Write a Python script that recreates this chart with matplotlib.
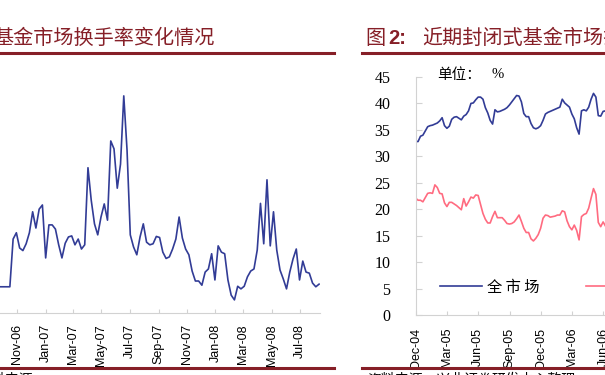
import matplotlib
matplotlib.use('Agg')
import matplotlib.pyplot as plt
import matplotlib.dates as mdates
import pandas as pd
from matplotlib.lines import Line2D

plt.rcParams['font.family'] = ['Noto Sans CJK SC', 'DejaVu Sans']

# ---------------- data ----------------
left_start = '2006-09-25'
left_turnover = [5.0, 5.0, 5.0, 5.0, 14.1, 15.3, 12.4, 11.9, 13.2, 15.3,
                 19.3, 16.2, 19.8, 20.6, 10.5, 16.8, 16.8, 16.0, 13.0, 10.5,
                 13.3, 14.5, 14.7, 13.0, 14.1, 12.2, 13.0, 27.7, 21.5, 17.0,
                 14.9, 18.3, 20.8, 17.7, 32.8, 31.3, 23.8, 28.4, 41.4, 31.1,
                 14.9, 12.6, 11.1, 14.5, 17.0, 13.5, 13.0, 13.2, 14.6, 14.4,
                 11.6, 10.4, 10.7, 12.2, 14.1, 18.3, 14.3, 12.2, 11.1, 8.0,
                 6.1, 6.1, 5.3, 7.8, 8.4, 11.3, 6.3, 12.8, 11.6, 11.3,
                 6.3, 3.4, 2.5, 5.1, 4.6, 5.1, 6.9, 8.0, 8.4, 12.0,
                 20.9, 13.2, 25.4, 12.8, 19.3, 12.0, 8.2, 6.5, 4.6, 7.8,
                 10.3, 12.2, 6.3, 9.9, 7.8, 7.6, 5.7, 5.0, 5.5]
left_ticks = ['Nov-06', 'Jan-07', 'Mar-07', 'May-07', 'Jul-07', 'Sep-07',
              'Nov-07', 'Jan-08', 'Mar-08', 'May-08', 'Jul-08']

right_start = '2004-12-01'
right_all = [32.8, 32.8, 33.8, 34.0, 34.8, 35.6, 35.8, 35.9, 36.1, 36.3,
             36.7, 37.3, 35.8, 35.3, 35.7, 37.0, 37.4, 37.5, 37.2, 36.9,
             37.6, 37.9, 38.6, 40.0, 40.1, 40.7, 41.2, 41.2, 40.8, 39.2,
             38.2, 36.8, 36.1, 38.8, 38.4, 38.5, 38.7, 38.9, 39.2, 39.7,
             40.3, 40.9, 41.5, 41.4, 40.3, 38.1, 37.5, 37.5, 36.2, 35.4,
             35.2, 35.4, 35.8, 36.8, 38.0, 38.3, 38.5, 38.7, 38.9, 39.1,
             39.3, 40.8, 40.1, 39.7, 39.3, 38.0, 37.1, 35.4, 34.2, 38.6,
             38.8, 38.6, 39.3, 40.8, 41.9, 41.2, 37.7, 37.6, 38.5, 38.6]
right_other = [22.1, 21.7, 21.7, 21.4, 22.2, 23.0, 23.1, 23.0, 24.6, 24.1,
               23.0, 22.9, 21.2, 20.5, 21.3, 21.3, 21.0, 20.7, 20.3, 19.9,
               22.0, 20.6, 21.4, 22.3, 22.1, 22.7, 22.6, 20.9, 19.2, 18.1,
               17.4, 17.4, 18.6, 19.6, 18.4, 18.4, 18.4, 17.9, 17.3, 17.2,
               17.3, 17.6, 18.2, 18.9, 17.7, 16.4, 15.6, 15.6, 14.4, 14.0,
               14.5, 15.2, 16.4, 18.3, 18.9, 18.8, 18.5, 18.6, 18.7, 18.9,
               18.9, 19.7, 19.5, 17.8, 16.7, 16.1, 17.0, 16.0, 14.2, 18.6,
               19.0, 19.2, 20.2, 22.1, 23.9, 22.8, 17.5, 16.7, 17.6, 16.8]
right_ticks = ['Dec-04', 'Mar-05', 'Jun-05', 'Sep-05', 'Dec-05', 'Mar-06',
               'Jun-06', 'Sep-06']
right_yticks = [0, 5, 10, 15, 20, 25, 30, 35, 40, 45]
right_labels = ['全 市 场', '封闭式基金']

left_title = '基金市场换手率变化情况'
right_title_a = '图'
right_title_b = '2:'
right_title_c = '近期封闭式基金市场折价率变化'
unit_text = '单位：'
unit_sym = '%'
left_source = '资料来源'
right_source = '资料来源：兴业证券研发中心整理'

# ---------------- layout helpers ----------------
W, H = 605.0, 375.0
fig = plt.figure(figsize=(6.05, 3.75), dpi=100)
fig.patch.set_facecolor('white')


def fx(x):
    return x / W


def fy(y):
    return 1.0 - y / H


DARKRED = '#861F27'
BLUE = '#323C96'
PINK = '#FF6B80'
GRAY = '#D2D2D2'

# ---------------- left chart ----------------
ax1 = fig.add_axes([fx(0), fy(313), fx(320) - fx(0), fy(77) - fy(313)])
ldates = pd.date_range(left_start, periods=len(left_turnover), freq='7D')
ax1.plot(ldates, left_turnover, color=BLUE, lw=1.2)
ltick_dates = pd.to_datetime(left_ticks, format='%b-%y')
d0 = mdates.date2num(ltick_dates[0])
d1 = mdates.date2num(ltick_dates[-1])
sc = (d1 - d0) / (300.0 - 17.3)
ax1.set_xlim(d0 - 17.3 * sc, d0 + (320 - 17.3) * sc)
ax1.set_ylim(0, 45)
ax1.set_xticks(ltick_dates)
ax1.set_xticklabels(left_ticks, rotation=90, fontfamily='Liberation Sans',
                    fontsize=9)
ax1.set_yticks([])
ax1.tick_params(axis='x', direction='in', length=3, color=GRAY, pad=8)
for s in ['left', 'top', 'right']:
    ax1.spines[s].set_visible(False)
ax1.spines['bottom'].set_color(GRAY)
ax1.patch.set_alpha(0)

# ---------------- right chart ----------------
rl, rr = 415.5, 800.0
ax2 = fig.add_axes([fx(rl), fy(315), fx(rr) - fx(rl), fy(77) - fy(315)])
rdates = pd.date_range(right_start, periods=len(right_all), freq='7D')
l1, = ax2.plot(rdates, right_all, color=BLUE, lw=1.2)
l2, = ax2.plot(rdates, right_other, color=PINK, lw=1.2)
r0 = mdates.date2num(pd.Timestamp(right_start)) - 0.5
ax2.set_xlim(r0, r0 + (rr - rl) * 2.913)
ax2.set_ylim(0, 45)
rtick_dates = pd.to_datetime(right_ticks, format='%b-%y')
ax2.set_xticks(rtick_dates)
ax2.set_xticklabels(right_ticks, rotation=90, fontfamily='Liberation Sans',
                    fontsize=9)
ax2.set_yticks(right_yticks)
ax2.set_yticklabels([str(v) for v in right_yticks],
                    fontfamily='Liberation Serif', fontsize=11.5)
ax2.tick_params(axis='x', direction='in', length=3, color=GRAY, pad=9)
ax2.tick_params(axis='y', direction='in', length=4, color=GRAY, pad=18)
for s in ['top', 'right']:
    ax2.spines[s].set_visible(False)
ax2.spines['bottom'].set_color(GRAY)
ax2.spines['left'].set_color(GRAY)
ax2.patch.set_alpha(0)

ax2.legend([l1, l2], right_labels, ncol=2, loc='center left',
           bbox_to_anchor=(fx(440), fy(287.3)), bbox_transform=fig.transFigure,
           frameon=False, fontsize=11, handlelength=2.75, handletextpad=0.35,
           columnspacing=3.0, borderpad=0, borderaxespad=0)

fig.text(fx(437), fy(75), unit_text, fontsize=10.5, va='center', ha='left')
fig.text(fx(492), fy(75), unit_sym, fontsize=10.5, va='center', ha='left',
         fontfamily='Liberation Serif')

# ---------------- titles and rules ----------------
fig.text(fx(-7), fy(38.5), left_title, fontsize=14.5, color=DARKRED,
         va='center', ha='left')
fig.text(fx(365), fy(38.5), right_title_a, fontsize=14.5, color=DARKRED,
         va='center', ha='left')
fig.text(fx(388), fy(38.5), right_title_b, fontsize=14.5, color=DARKRED,
         va='center', ha='left', fontfamily='Liberation Sans',
         fontweight='bold')
fig.text(fx(422), fy(38.5), right_title_c, fontsize=14.5, color=DARKRED,
         va='center', ha='left')

for (xa, xb, yy) in [(0, 334, 52.5), (362, 605, 52.5),
                     (0, 334, 367.5), (362, 605, 367.5)]:
    fig.add_artist(Line2D([fx(xa), fx(xb)], [fy(yy), fy(yy)], lw=2.2,
                          color=DARKRED, transform=fig.transFigure))

fig.text(fx(33), fy(372.5), left_source, fontsize=10, va='top', ha='right')
fig.text(fx(367), fy(372.5), right_source, fontsize=10, va='top', ha='left')

fig.savefig('out.png', dpi=100)
